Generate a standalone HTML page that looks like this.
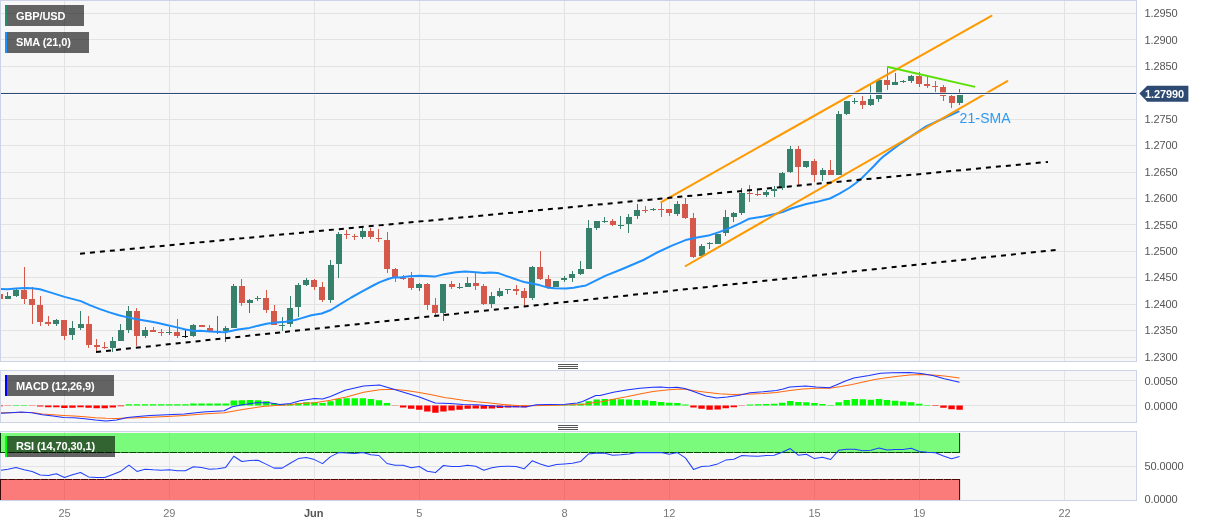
<!DOCTYPE html>
<html><head><meta charset="utf-8"><title>GBP/USD chart</title>
<style>html,body{margin:0;padding:0;background:#fff;width:1207px;height:526px;overflow:hidden}</style>
</head><body>
<svg width="1207" height="526" viewBox="0 0 1207 526" style="display:block;font-family:'Liberation Sans', Arial, Helvetica, sans-serif;will-change:transform;letter-spacing:-0.1px">
<rect x="0" y="0" width="1207" height="526" fill="#ffffff"/>
<rect x="0.5" y="0.5" width="1136" height="361" fill="#f7f7f7" stroke="#ccd3e6" stroke-width="1"/>
<rect x="0.5" y="370.5" width="1136" height="52" fill="#f7f7f7" stroke="#ccd3e6" stroke-width="1"/>
<rect x="0.5" y="431.5" width="1136" height="69" fill="#f7f7f7" stroke="#ccd3e6" stroke-width="1"/>
<path d="M1 13.5H1136M1 39.5H1136M1 66.5H1136M1 92.5H1136M1 119.5H1136M1 145.5H1136M1 172.5H1136M1 198.5H1136M1 224.5H1136M1 251.5H1136M1 277.5H1136M1 304.5H1136M1 330.5H1136M1 357.5H1136M64.5 1V361M64.5 371V422M64.5 432V500M169.5 1V361M169.5 371V422M169.5 432V500M314.5 1V361M314.5 371V422M314.5 432V500M419.5 1V361M419.5 371V422M419.5 432V500M564.5 1V361M564.5 371V422M564.5 432V500M669.5 1V361M669.5 371V422M669.5 432V500M814.5 1V361M814.5 371V422M814.5 432V500M919.5 1V361M919.5 371V422M919.5 432V500M1064.5 1V361M1064.5 371V422M1064.5 432V500M1 380.5H1136M1 405.5H1136M1 466.5H1136" stroke="#e3e3e3" stroke-width="1" fill="none"/>
<rect x="0" y="433" width="959.6" height="19.5" fill="rgba(0,255,0,0.5)"/>
<rect x="0" y="479" width="959.6" height="21" fill="rgba(255,0,0,0.5)"/>
<path d="M0 452.5H959.6" stroke="#024502" stroke-width="1" fill="none" stroke-dasharray="7.465 0.6" stroke-dashoffset="7.885"/>
<path d="M0 479.5H959.6" stroke="#4a0505" stroke-width="1" fill="none" stroke-dasharray="7.465 0.6" stroke-dashoffset="7.885"/>
<path d="M959.6 433V453M0.5 433V453" stroke="#0a3a0a" stroke-width="1" fill="none"/>
<path d="M959.6 479V500M0.5 479V500" stroke="#3a0a0a" stroke-width="1" fill="none"/>
<defs><clipPath id="cm"><rect x="1" y="1" width="1135" height="360"/></clipPath><clipPath id="cmacd"><rect x="1" y="371" width="1135" height="51"/></clipPath><clipPath id="crsi"><rect x="1" y="432" width="1135" height="68"/></clipPath></defs>
<g clip-path="url(#cm)">
<path d="M7 292h1V299h-1zM16 289h1V297h-1zM56 319h1V326h-1zM72 321h1V340h-1zM80 311h1V330h-1zM112 337h1V352h-1zM120 324h1V341h-1zM128 306h1V333h-1zM145 327h1V338h-1zM169 327h1V335h-1zM193 324h1V337h-1zM217 316h1V334h-1zM225 326h1V342h-1zM233 284h1V328h-1zM249 299h1V313h-1zM257 296h1V301h-1zM282 317h1V331h-1zM290 296h1V327h-1zM298 283h1V317h-1zM306 278h1V286h-1zM330 260h1V303h-1zM338 232h1V278h-1zM362 228h1V239h-1zM419 283h1V291h-1zM443 284h1V321h-1zM459 283h1V289h-1zM467 277h1V287h-1zM491 292h1V308h-1zM499 288h1V297h-1zM507 289h1V294h-1zM532 266h1V300h-1zM556 281h1V287h-1zM564 276h1V282h-1zM572 271h1V282h-1zM580 261h1V275h-1zM588 220h1V269h-1zM596 221h1V230h-1zM604 217h1V223h-1zM620 216h1V229h-1zM628 214h1V233h-1zM637 204h1V219h-1zM653 208h1V211h-1zM677 201h1V216h-1zM701 244h1V258h-1zM709 242h1V249h-1zM717 234h1V244h-1zM725 210h1V236h-1zM733 212h1V222h-1zM741 188h1V215h-1zM766 190h1V197h-1zM774 186h1V197h-1zM782 172h1V190h-1zM790 146h1V173h-1zM806 161h1V168h-1zM822 168h1V181h-1zM838 111h1V175h-1zM846 101h1V115h-1zM854 98h1V104h-1zM870 85h1V106h-1zM878 80h1V102h-1zM895 73h1V85h-1zM903 80h1V83h-1zM911 75h1V83h-1zM959 89h1V105h-1z" fill="#37806c"/>
<path d="M5 296h6v3h-6zM13 290h6v6h-6zM53 320h6v4h-6zM69 328h6v7h-6zM78 324h6v4h-6zM110 341h6v7h-6zM118 330h6v11h-6zM126 311h6v19h-6zM142 330h6v6h-6zM166 332h6v1h-6zM190 325h6v11h-6zM215 331h6v1h-6zM223 328h6v3h-6zM231 286h6v42h-6zM247 300h6v3h-6zM255 298h6v1h-6zM279 325h6v1h-6zM287 308h6v16h-6zM295 285h6v22h-6zM303 280h6v5h-6zM328 265h6v35h-6zM336 234h6v30h-6zM360 231h6v6h-6zM416 284h6v4h-6zM440 284h6v29h-6zM457 287h6v1h-6zM465 283h6v4h-6zM489 296h6v8h-6zM497 291h6v5h-6zM505 289h6v1h-6zM529 267h6v31h-6zM553 281h6v6h-6zM561 278h6v2h-6zM569 274h6v4h-6zM578 269h6v5h-6zM586 228h6v41h-6zM594 221h6v7h-6zM602 221h6v1h-6zM618 225h6v1h-6zM626 217h6v7h-6zM634 210h6v6h-6zM650 209h6v1h-6zM674 204h6v10h-6zM699 246h6v10h-6zM707 243h6v1h-6zM715 234h6v10h-6zM723 217h6v16h-6zM731 213h6v4h-6zM739 193h6v20h-6zM763 192h6v3h-6zM771 189h6v2h-6zM779 173h6v15h-6zM787 149h6v23h-6zM803 161h6v6h-6zM820 170h6v5h-6zM836 114h6v61h-6zM844 101h6v13h-6zM852 101h6v1h-6zM868 99h6v6h-6zM876 80h6v19h-6zM892 82h6v3h-6zM900 81h6v1h-6zM908 76h6v5h-6zM957 94h6v9h-6z" fill="#37806c"/>
<path d="M-1 292h1V301h-1zM24 267h1V304h-1zM32 287h1V324h-1zM40 296h1V326h-1zM48 316h1V326h-1zM64 320h1V340h-1zM88 316h1V348h-1zM96 339h1V353h-1zM104 342h1V349h-1zM136 308h1V346h-1zM153 327h1V332h-1zM161 329h1V336h-1zM177 319h1V338h-1zM201 325h1V327h-1zM209 325h1V331h-1zM241 279h1V306h-1zM266 290h1V313h-1zM274 305h1V325h-1zM314 279h1V290h-1zM322 282h1V302h-1zM346 230h1V239h-1zM354 234h1V240h-1zM370 228h1V239h-1zM378 229h1V242h-1zM387 232h1V273h-1zM395 268h1V282h-1zM403 275h1V280h-1zM411 272h1V290h-1zM427 283h1V310h-1zM435 298h1V315h-1zM451 281h1V289h-1zM475 273h1V290h-1zM483 284h1V305h-1zM516 285h1V295h-1zM524 288h1V307h-1zM540 251h1V280h-1zM548 275h1V289h-1zM612 219h1V226h-1zM645 206h1V213h-1zM661 202h1V217h-1zM669 209h1V216h-1zM685 198h1V219h-1zM693 213h1V258h-1zM749 185h1V202h-1zM757 190h1V196h-1zM798 146h1V185h-1zM814 159h1V182h-1zM830 160h1V175h-1zM862 96h1V109h-1zM887 67h1V90h-1zM919 72h1V87h-1zM927 77h1V88h-1zM935 81h1V92h-1zM943 85h1V101h-1zM951 94h1V108h-1z" fill="#d5594a"/>
<path d="M-3 294h6v5h-6zM21 290h6v9h-6zM29 299h6v6h-6zM37 305h6v17h-6zM45 322h6v2h-6zM61 320h6v16h-6zM86 324h6v21h-6zM94 345h6v2h-6zM102 347h6v1h-6zM134 311h6v25h-6zM150 330h6v2h-6zM158 332h6v1h-6zM174 332h6v4h-6zM199 325h6v2h-6zM207 328h6v3h-6zM239 286h6v17h-6zM263 298h6v12h-6zM271 311h6v14h-6zM311 280h6v7h-6zM319 287h6v13h-6zM344 234h6v1h-6zM352 236h6v1h-6zM368 231h6v6h-6zM376 238h6v1h-6zM384 240h6v29h-6zM392 269h6v8h-6zM400 278h6v1h-6zM408 278h6v10h-6zM424 284h6v21h-6zM432 305h6v8h-6zM449 284h6v3h-6zM473 283h6v3h-6zM481 286h6v18h-6zM513 289h6v2h-6zM521 291h6v7h-6zM537 267h6v12h-6zM545 279h6v8h-6zM610 221h6v4h-6zM642 210h6v1h-6zM658 209h6v1h-6zM666 209h6v4h-6zM682 204h6v14h-6zM690 218h6v39h-6zM747 193h6v1h-6zM755 194h6v1h-6zM795 149h6v18h-6zM811 161h6v14h-6zM828 170h6v5h-6zM860 101h6v4h-6zM884 80h6v5h-6zM916 76h6v8h-6zM924 84h6v2h-6zM932 86h6v1h-6zM940 87h6v9h-6zM949 96h6v7h-6z" fill="#d5594a"/>
<path d="M185 330h1V338h-1z" fill="#111111"/>
<path d="M182 336h6v1h-6z" fill="#111111"/>
<polyline points="0,289.1 7.6,289.2 16.2,288.4 24.7,288.1 32.3,288.3 39.9,289.3 49.4,292.1 64.6,296.9 80.8,301.1 90.3,305.4 100,309.1 109.5,312.4 119,315.2 128.5,317.6 138,319.5 147.5,321.1 157,322.8 166.5,324.9 176,327.1 185.6,329.5 195,330.9 200,330.8 209.5,331.6 219,332.1 225.7,332.3 228.5,331.4 238,329.5 249.4,327.9 257,325.9 266.5,323.8 276,322.6 285.6,321.7 295,320 300,318.6 311.4,315.2 321.7,313.5 330.8,310 339.9,304.3 351.3,297.5 362.7,291.2 374.1,285 379.8,282.1 388.9,278.7 394.6,277.3 400,277.6 409.3,276.2 420,275.8 434.6,276.6 442.6,274.6 455.9,272.3 465.2,271.6 475.9,272.2 484,273.1 490,272.5 497.6,272.9 505.2,275.6 512.8,278.2 520.4,280.9 524.2,282 531.8,283.6 539.4,285.1 547,287.4 554.6,288.3 566,288.5 573.6,287.7 580,286.6 586,285.4 605.2,275.9 622.3,269 643.4,260 657.1,252.5 671.9,245.6 685.6,240.1 697,237.6 708.4,235.6 719.8,231.9 731.2,227.4 740,223.4 749.3,218.7 763.5,216.4 774.9,214 782.5,212.1 792,208.3 806.3,204 815.8,202.1 830,198.5 839.5,193.7 849,188 855.7,183.3 861.4,178.5 868,171.9 873.7,166.2 880,159.5 884.5,155.6 894,148.5 901.6,142.8 913,135.2 925,127 940,120 959.4,111.1" stroke="#1e90ff" stroke-width="2" fill="none" stroke-linejoin="round"/>
<path d="M661.3 202.1L991.4 15.8M685.7 266L1007.3 81.1" stroke="#ff9900" stroke-width="2" fill="none" stroke-linecap="round"/>
<path d="M80 253.7L1048 161.9M96.1 352L1055.6 249.9" stroke="#000" stroke-width="2" stroke-dasharray="5 5" fill="none"/>
<path d="M887.1 66.7L975.1 86.9" stroke="#5ae000" stroke-width="2" fill="none"/>
<rect x="0" y="92" width="1136" height="1" fill="#ffffff" fill-opacity="0.5"/>
<rect x="0" y="94" width="1136" height="1" fill="#ffffff"/>
<rect x="0" y="93" width="1136" height="1" fill="#2b4a75"/>
</g>
<text x="959.6" y="122.7" font-size="14" fill="#2e9af2" letter-spacing="0.1">21-SMA</text>
<path d="M1139.4 93.6L1147.2 85.8H1188.4V101.7H1147.2Z" fill="#2d4a72"/>
<text x="1145" y="97.6" font-size="11" font-weight="bold" fill="#ffffff">1.27990</text>
<text x="1144.5" y="17.16" font-size="11" fill="#555">1.2950</text>
<text x="1144.5" y="43.58" font-size="11" fill="#555">1.2900</text>
<text x="1144.5" y="70" font-size="11" fill="#555">1.2850</text>
<text x="1144.5" y="122.84" font-size="11" fill="#555">1.2750</text>
<text x="1144.5" y="149.26" font-size="11" fill="#555">1.2700</text>
<text x="1144.5" y="175.68" font-size="11" fill="#555">1.2650</text>
<text x="1144.5" y="202.1" font-size="11" fill="#555">1.2600</text>
<text x="1144.5" y="228.52" font-size="11" fill="#555">1.2550</text>
<text x="1144.5" y="254.94" font-size="11" fill="#555">1.2500</text>
<text x="1144.5" y="281.36" font-size="11" fill="#555">1.2450</text>
<text x="1144.5" y="307.78" font-size="11" fill="#555">1.2400</text>
<text x="1144.5" y="334.2" font-size="11" fill="#555">1.2350</text>
<text x="1144.5" y="360.62" font-size="11" fill="#555">1.2300</text>
<text x="1144.5" y="385.4" font-size="11" fill="#555">0.0050</text>
<text x="1144.5" y="410.4" font-size="11" fill="#555">0.0000</text>
<text x="1144.5" y="470.2" font-size="11" fill="#555">50.0000</text>
<text x="1144.5" y="502.9" font-size="11" fill="#555">0.0000</text>
<text x="64.4" y="517.1" font-size="11" fill="#777" text-anchor="middle">25</text>
<text x="169.25" y="517.1" font-size="11" fill="#777" text-anchor="middle">29</text>
<text x="313.71" y="517.1" font-size="11" font-weight="bold" fill="#555" text-anchor="middle">Jun</text>
<text x="419.26" y="517.1" font-size="11" fill="#777" text-anchor="middle">5</text>
<text x="564.43" y="517.1" font-size="11" fill="#777" text-anchor="middle">8</text>
<text x="669.27" y="517.1" font-size="11" fill="#777" text-anchor="middle">12</text>
<text x="814.44" y="517.1" font-size="11" fill="#777" text-anchor="middle">15</text>
<text x="919.29" y="517.1" font-size="11" fill="#777" text-anchor="middle">19</text>
<text x="1064.46" y="517.1" font-size="11" fill="#777" text-anchor="middle">22</text>
<g clip-path="url(#cmacd)">
<path d="M12.81 405.1h6.4v0.4h-6.4zM20.88 405.1h6.4v0.4h-6.4zM125.72 404.2h6.4v1.3h-6.4zM133.79 404.2h6.4v1.3h-6.4zM141.85 404.2h6.4v1.3h-6.4zM149.92 404.2h6.4v1.3h-6.4zM157.98 404.2h6.4v1.3h-6.4zM166.05 404.2h6.4v1.3h-6.4zM174.11 404.2h6.4v1.3h-6.4zM182.18 404.2h6.4v1.3h-6.4zM190.24 403.5h6.4v2h-6.4zM198.31 403.5h6.4v2h-6.4zM206.37 403.5h6.4v2h-6.4zM214.44 403.5h6.4v2h-6.4zM222.5 403.5h6.4v2h-6.4zM230.56 400.6h6.4v4.9h-6.4zM238.63 400.2h6.4v5.3h-6.4zM246.69 400.1h6.4v5.4h-6.4zM254.76 400.2h6.4v5.3h-6.4zM262.82 401.3h6.4v4.2h-6.4zM270.89 403.2h6.4v2.3h-6.4zM278.95 404h6.4v1.5h-6.4zM287.02 404h6.4v1.5h-6.4zM295.08 403h6.4v2.5h-6.4zM303.15 402.2h6.4v3.3h-6.4zM311.21 402.2h6.4v3.3h-6.4zM319.28 402.9h6.4v2.6h-6.4zM327.34 401.3h6.4v4.2h-6.4zM335.41 399.1h6.4v6.4h-6.4zM343.47 398.2h6.4v7.3h-6.4zM351.54 398.2h6.4v7.3h-6.4zM359.6 398.2h6.4v7.3h-6.4zM367.67 399.1h6.4v6.4h-6.4zM375.73 400.2h6.4v5.3h-6.4zM383.8 403.1h6.4v2.4h-6.4zM528.97 405.2h6.4v0.3h-6.4zM537.03 405h6.4v0.5h-6.4zM545.1 405h6.4v0.5h-6.4zM553.16 405h6.4v0.5h-6.4zM561.23 404.9h6.4v0.6h-6.4zM569.29 404.5h6.4v1h-6.4zM577.36 403.5h6.4v2h-6.4zM585.42 401.3h6.4v4.2h-6.4zM593.49 399.5h6.4v6h-6.4zM601.55 398.9h6.4v6.6h-6.4zM609.62 398.9h6.4v6.6h-6.4zM617.68 399.3h6.4v6.2h-6.4zM625.75 399.5h6.4v6h-6.4zM633.81 399.9h6.4v5.6h-6.4zM641.88 400.2h6.4v5.3h-6.4zM649.94 401.1h6.4v4.4h-6.4zM658.01 401.9h6.4v3.6h-6.4zM666.07 402.8h6.4v2.7h-6.4zM674.14 403.1h6.4v2.4h-6.4zM682.2 404.5h6.4v1h-6.4zM746.72 404.5h6.4v1h-6.4zM754.79 404.2h6.4v1.3h-6.4zM762.85 403.9h6.4v1.6h-6.4zM770.92 403.8h6.4v1.7h-6.4zM778.98 402.8h6.4v2.7h-6.4zM787.05 401.1h6.4v4.4h-6.4zM795.11 401.9h6.4v3.6h-6.4zM803.18 402.2h6.4v3.3h-6.4zM811.24 403.1h6.4v2.4h-6.4zM819.31 403.9h6.4v1.6h-6.4zM827.37 405h6.4v0.5h-6.4zM835.44 402.2h6.4v3.3h-6.4zM843.5 400.1h6.4v5.4h-6.4zM851.57 399.1h6.4v6.4h-6.4zM859.63 399.3h6.4v6.2h-6.4zM867.7 399.7h6.4v5.8h-6.4zM875.76 399.1h6.4v6.4h-6.4zM883.83 399.9h6.4v5.6h-6.4zM891.89 400.7h6.4v4.8h-6.4zM899.96 401.6h6.4v3.9h-6.4zM908.02 402.3h6.4v3.2h-6.4zM916.09 403.8h6.4v1.7h-6.4zM924.15 404.9h6.4v0.6h-6.4z" fill="#00ff00"/>
<path d="M-3.32 405.5h6.4v0.8h-6.4zM4.75 405.5h6.4v0.3h-6.4zM28.94 405.5h6.4v0.2h-6.4zM37.01 405.5h6.4v1h-6.4zM45.07 405.5h6.4v1.7h-6.4zM53.14 405.5h6.4v1.7h-6.4zM61.2 405.5h6.4v2.5h-6.4zM69.27 405.5h6.4v2.3h-6.4zM77.33 405.5h6.4v1.7h-6.4zM85.39 405.5h6.4v2.3h-6.4zM93.46 405.5h6.4v2.8h-6.4zM101.52 405.5h6.4v2.8h-6.4zM109.59 405.5h6.4v2h-6.4zM117.66 405.5h6.4v0.7h-6.4zM391.86 405.5h6.4v0.3h-6.4zM399.93 405.5h6.4v2h-6.4zM407.99 405.5h6.4v3.3h-6.4zM416.06 405.5h6.4v4.2h-6.4zM424.12 405.5h6.4v6h-6.4zM432.19 405.5h6.4v7.3h-6.4zM440.25 405.5h6.4v6h-6.4zM448.32 405.5h6.4v5h-6.4zM456.39 405.5h6.4v4.2h-6.4zM464.45 405.5h6.4v3.3h-6.4zM472.52 405.5h6.4v2.9h-6.4zM480.58 405.5h6.4v3.3h-6.4zM488.65 405.5h6.4v2.9h-6.4zM496.71 405.5h6.4v2.4h-6.4zM504.78 405.5h6.4v2h-6.4zM512.84 405.5h6.4v1.7h-6.4zM520.9 405.5h6.4v1.7h-6.4zM690.27 405.5h6.4v2h-6.4zM698.33 405.5h6.4v3.3h-6.4zM706.4 405.5h6.4v4.2h-6.4zM714.46 405.5h6.4v4h-6.4zM722.53 405.5h6.4v2.7h-6.4zM730.59 405.5h6.4v1.7h-6.4zM738.66 405.5h6.4v0.3h-6.4zM932.22 405.5h6.4v0.6h-6.4zM940.28 405.5h6.4v2.2h-6.4zM948.35 405.5h6.4v3.7h-6.4zM956.41 405.5h6.4v4.3h-6.4z" fill="#ff0000"/>
<polyline points="0,412.8 21.2,412.4 31.8,412.5 42.4,414.1 53,414.8 63.6,415.4 74.2,416.1 84.8,416.8 95.4,417.7 106,418.3 116.6,418.5 127.3,418.1 137.9,417.7 150,417.2 167.2,416.4 184.5,415.4 203,414.1 224.2,412.8 242.8,409.5 262.7,406.5 275.9,405.5 290.5,404.8 300,403.5 314.6,402.8 330.5,400.2 346.4,396.9 363.6,392.2 379.5,389.8 392.8,389.3 406,390.6 419.3,392.5 432.6,395.1 445.8,397.8 450,398.2 463.3,400.2 476.5,401.8 489.8,403.1 503,404.4 516.3,405.5 529.5,405.8 542.8,405.5 556,405.2 569.3,404.8 582.6,404.4 595.8,402.2 600,402.1 613.3,399.2 626.5,396.8 639.8,393.9 653,391.5 666.3,389.9 679.5,389.1 686.2,389.3 692.8,390.4 706,392.2 719.3,393.8 732.6,394.6 745.8,394.2 763.3,393.5 776.5,392.6 789.8,390.4 803,388.9 816.3,388.2 829.5,388.2 841,386.6 852,384.6 863.2,381.9 874.8,379.6 886.4,377.8 898,376.3 909.6,375 921.2,374.4 932.8,375 944.4,376.1 959.5,378.1" stroke="#ff6a10" stroke-width="1.05" fill="none" stroke-linejoin="round"/>
<polyline points="0,413.4 10.6,412.8 21.2,412.1 31.8,412.8 42.4,414.8 53,416.1 63.6,417.4 74.2,417.7 84.8,418.7 95.4,420.1 106,421 116.6,420.1 127.3,417.4 137.9,416.4 150,415.4 167.2,414.8 184.5,414.1 203,412.1 224.2,410.8 232.2,406.8 242.8,404.8 256,402.8 269.3,402.8 279.9,404.4 290.5,403.5 300,400.8 314.6,398.6 322.5,399.1 330.5,396.5 345.1,390.2 363.6,385.9 379.5,385.1 392.8,388.9 406,392.9 419.3,396.9 435.2,403.1 450,403.5 463.3,404.4 476.5,404.8 489.8,405.8 503,406.5 516.3,406.8 525.6,407.1 536.2,404.8 549.4,404.4 565.3,404.2 577.3,403.1 582.6,401.5 595.8,395.5 600,395.5 613.3,392.2 626.5,389.9 639.8,388.2 653,387.3 661,386.9 668.9,387.8 676.9,387.3 684.8,388.6 692.8,391.2 706,396.1 716.6,397.9 727.3,397.1 737.9,395.5 750,392.8 763.3,391.8 776.5,390.4 783.1,388.9 789.8,386.9 805.7,385.9 816.3,386.9 829.5,387.8 836.2,385.1 845.4,380.9 853.9,378.1 869,375.6 880.6,373.2 892.2,372.7 909.6,372.4 921.2,373.5 932.8,375.6 944.4,378.8 959.5,382.3" stroke="#1a30ff" stroke-width="1.05" fill="none" stroke-linejoin="round"/>
</g>
<g clip-path="url(#crsi)">
<polyline points="-0.12,470.5 7.95,469.2 16.01,467.4 24.08,469.8 32.14,471.5 40.21,475.1 48.27,475.5 56.34,473.8 64.4,477.4 72.47,474.7 80.53,472.5 88.59,476.9 96.66,477.5 104.72,477.6 112.79,474.5 120.86,471.2 128.92,465.2 136.99,471.4 145.05,469.2 153.12,469.8 161.18,470.2 169.25,469.8 177.31,470.8 185.38,470.8 193.44,466.8 201.5,467.6 209.57,469.2 217.63,468.8 225.7,467.4 233.76,456.2 241.83,461.5 249.89,460.5 257.96,460.3 266.02,464.1 274.09,468.1 282.15,468.1 290.22,463.2 298.28,458.6 306.35,457.5 314.41,459.6 322.48,463.6 330.54,456.6 338.61,452.6 346.67,452.9 354.74,453.5 362.8,452.6 370.87,454.8 378.93,455.5 387,463.5 395.06,465.2 403.13,465.2 411.19,467.8 419.26,466.5 427.32,471.2 435.39,472.6 443.45,465.5 451.52,466.5 459.59,466.5 467.65,465.2 475.72,466.2 483.78,470.2 491.85,467.8 499.91,466.5 507.98,466.2 516.04,466.5 524.11,468.8 532.17,460.8 540.24,463.9 548.3,466.5 556.37,464.5 564.43,463.9 572.5,463.2 580.56,461.6 588.62,453.9 596.69,453 604.75,453.3 612.82,455.2 620.88,454.8 628.95,453.9 637.01,452.6 645.08,452.6 653.14,452.6 661.21,452.6 669.27,454.3 677.34,452.6 685.4,457.9 693.47,469.4 701.53,466.5 709.6,466.1 717.66,463.9 725.73,460.1 733.79,459.2 741.86,455.6 749.92,455.9 757.99,456.2 766.05,455.6 774.12,455.2 782.18,452.2 790.25,448.6 798.31,455.2 806.38,454.3 814.44,458.6 822.51,457.2 830.57,459.5 838.64,450.3 846.7,449.3 854.77,449.3 862.83,450.7 870.9,450.3 878.96,448.1 887.03,450 895.09,449.4 903.16,449.4 911.22,448.3 919.29,451.4 927.35,452.2 935.42,452.8 943.48,456 951.55,458.7 959.61,456.5" stroke="#2040ff" stroke-width="1.05" fill="none" stroke-linejoin="round"/>
</g>
<rect x="556" y="362.5" width="24" height="7" fill="#ffffff"/>
<path d="M558 364.5H578M558 366.5H578M558 368.5H578" stroke="#555" stroke-width="1"/>
<rect x="556" y="423.5" width="24" height="7" fill="#ffffff"/>
<path d="M558 425.5H578M558 427.5H578M558 429.5H578" stroke="#555" stroke-width="1"/>
<rect x="5" y="5" width="79" height="21" fill="rgba(0,0,0,0.6)"/>
<rect x="5" y="5" width="2" height="21" fill="#2a8a70"/>
<text x="16" y="20" font-size="11" font-weight="bold" fill="#ffffff">GBP/USD</text>
<rect x="5" y="32" width="84" height="21" fill="rgba(0,0,0,0.6)"/>
<rect x="5" y="32" width="2" height="21" fill="#1e90ff"/>
<text x="16" y="45.9" font-size="11" font-weight="bold" fill="#ffffff">SMA (21,0)</text>
<rect x="5" y="375" width="109" height="21" fill="rgba(0,0,0,0.6)"/>
<rect x="5" y="375" width="2" height="21" fill="#0000ff"/>
<text x="16" y="390" font-size="11" font-weight="bold" fill="#ffffff">MACD (12,26,9)</text>
<rect x="5" y="436" width="110" height="21" fill="rgba(0,0,0,0.6)"/>
<rect x="5" y="436" width="2" height="21" fill="#00ff00"/>
<text x="16" y="450.1" font-size="11" font-weight="bold" fill="#ffffff">RSI (14,70,30,1)</text>
</svg>
</body></html>
